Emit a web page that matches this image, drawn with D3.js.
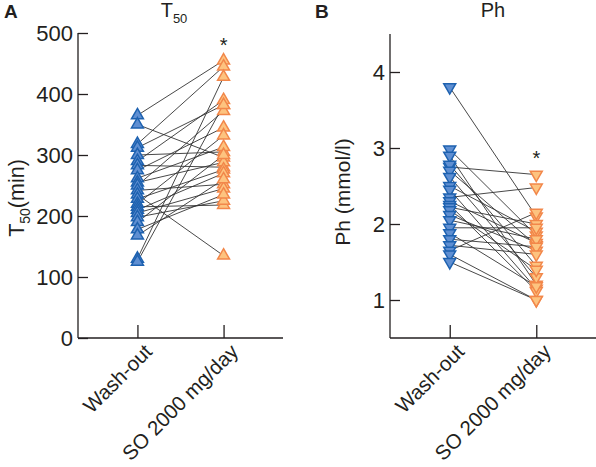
<!DOCTYPE html>
<html><head><meta charset="utf-8">
<script src="https://cdn.jsdelivr.net/npm/d3@7"></script>
<style>body{margin:0;background:#fff}svg{display:block;font-family:"Liberation Sans",Arial,sans-serif}</style>
</head><body>
<svg id="c" width="596" height="467"></svg>
<script>
const categories = ["Wash-out", "SO 2000 mg/day"];
// Panel A: T50 (min), paired per subject
const t50Wash = [365, 350, 318, 312, 300, 290, 283, 275, 262, 255, 250, 242, 235, 228, 220, 215, 210, 205, 198, 190, 178, 168, 130, 125];
const t50SO   = [455, 296, 445, 382, 305, 390, 280, 345, 313, 288, 372, 252, 135, 276, 332, 218, 270, 245, 225, 300, 235, 260, 428, 382];
// Panel B: Ph (mmol/l), paired per subject
const phWash = [3.8, 2.98, 2.9, 2.75, 2.78, 2.7, 2.62, 2.5, 2.45, 2.35, 2.3, 2.25, 2.22, 2.18, 2.12, 2.05, 1.95, 1.88, 1.8, 1.72, 1.65, 1.6, 1.5];
const phSO   = [2.1, 1.85, 1.2, 2.65, 1.45, 1.72, 1.3, 1.9, 1.15, 2.48, 1.75, 1.12, 2.0, 1.4, 1.65, 1.8, 1.95, 1.18, 1.7, 1.6, 2.15, 1.0, 1.0];
const ticksA = [0, 100, 200, 300, 400, 500];
const ticksB = [1, 2, 3, 4];

const svg = d3.select("#c");
const ink = "#231f20";
const blueFill = "#5f8fd2", blueStroke = "#1e62b0";
const orFill = "#fdc37f", orStroke = "#f2874a";

function panel(o) {
  const g = svg.append("g");
  const x = d3.scalePoint().domain(categories).range([o.x0, o.x1]).padding(0.69);
  const y = d3.scaleLinear().domain(o.domain).range([338, o.yTop]);
  const ya = g.append("g").attr("transform", `translate(${o.x0},0)`)
    .call(d3.axisRight(y).tickValues(o.ticks).tickSize(10).tickFormat(""));
  ya.select(".domain").remove();
  ya.selectAll("line").attr("stroke", ink).attr("stroke-width", 1.3);
  g.append("line").attr("x1", o.x0).attr("x2", o.x0).attr("y1", y(o.domain[1])).attr("y2", 338)
    .attr("stroke", ink).attr("stroke-width", 1.3);
  g.selectAll(".yl").data(o.ticks).enter().append("text")
    .attr("x", o.x0 - 5).attr("y", d => y(d)).attr("dy", "0.36em")
    .attr("text-anchor", "end").attr("font-size", 22).attr("fill", ink).text(d => d);
  const xa = g.append("g").attr("transform", "translate(0,338)")
    .call(d3.axisTop(x).tickSize(13).tickFormat(""));
  xa.select(".domain").remove();
  xa.selectAll("line").attr("stroke", ink).attr("stroke-width", 1.3);
  g.append("line").attr("x1", o.x0).attr("x2", o.x1).attr("y1", 338).attr("y2", 338)
    .attr("stroke", ink).attr("stroke-width", 1.3);
  g.selectAll(".xl").data(categories).enter().append("text")
    .attr("transform", d => `translate(${x(d) + 5},${342}) rotate(-45)`)
    .attr("text-anchor", "end").attr("dy", "0.75em").attr("font-size", 20.5).attr("fill", ink).text(d => d);
  const xa0 = x(categories[0]), xb0 = x(categories[1]);
  g.selectAll(".pl").data(o.a).enter().append("line")
    .attr("x1", xa0).attr("x2", xb0).attr("y1", d => y(d)).attr("y2", (d, i) => y(o.b[i]))
    .attr("stroke", "#333").attr("stroke-width", 0.9);
  const tri = d3.symbol().type(d3.symbolTriangle).size(62);
  const rot = o.down ? " rotate(180)" : "";
  g.selectAll(".pa").data(o.a).enter().append("path").attr("d", tri)
    .attr("transform", d => `translate(${xa0},${y(d)})${rot}`)
    .attr("fill", blueFill).attr("stroke", blueStroke).attr("stroke-width", 1.5);
  g.selectAll(".pb").data(o.b).enter().append("path").attr("d", tri)
    .attr("transform", d => `translate(${xb0},${y(d)})${rot}`)
    .attr("fill", orFill).attr("stroke", orStroke).attr("stroke-width", 1.5);
  g.append("text").attr("x", xb0).attr("y", o.starY).attr("text-anchor", "middle")
    .attr("font-size", 20).attr("fill", ink).text("*");
  return {x, y};
}

panel({x0: 78, x1: 283, domain: [0, 500], yTop: 33, ticks: ticksA, a: t50Wash, b: t50SO, down: false, starY: 52});
panel({x0: 390, x1: 596, domain: [0.5, 4.5], yTop: 34, ticks: ticksB, a: phWash, b: phSO, down: true, starY: 165});

svg.append("text").attr("x", 4).attr("y", 18).attr("font-size", 19).attr("font-weight", "bold").attr("fill", ink).text("A");
svg.append("text").attr("x", 315).attr("y", 18).attr("font-size", 19).attr("font-weight", "bold").attr("fill", ink).text("B");
const tA = svg.append("text").attr("x", 174).attr("y", 17).attr("text-anchor", "middle").attr("font-size", 20).attr("fill", ink);
tA.append("tspan").text("T");
tA.append("tspan").attr("font-size", 13).attr("dy", 6).text("50");
svg.append("text").attr("x", 493).attr("y", 17).attr("text-anchor", "middle").attr("font-size", 20).attr("fill", ink).text("Ph");
const yl = svg.append("text").attr("transform", "translate(24,198) rotate(-90)").attr("text-anchor", "middle").attr("font-size", 21.5).attr("fill", ink);
yl.append("tspan").text("T");
yl.append("tspan").attr("font-size", 14).attr("dy", 6).text("50");
yl.append("tspan").attr("dy", -6).text("(min)");
svg.append("text").attr("transform", "translate(350,192) rotate(-90)").attr("text-anchor", "middle").attr("font-size", 21).attr("fill", ink).text("Ph (mmol/l)");
</script>
</body></html>
